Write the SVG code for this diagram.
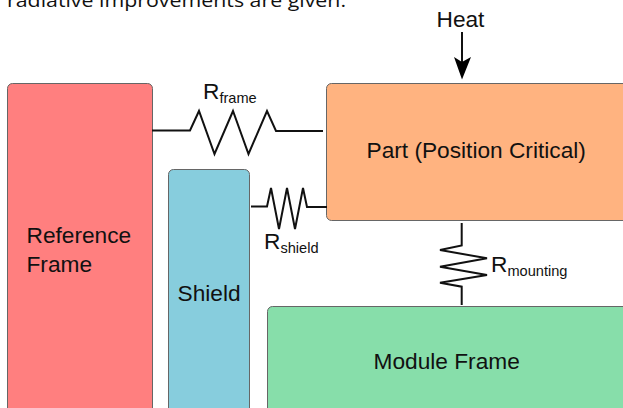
<svg xmlns="http://www.w3.org/2000/svg" width="623" height="408" viewBox="0 0 623 408">
<style>
.n{stroke:#666;stroke-width:1}
.w{fill:none;stroke:#111;stroke-width:2;stroke-linejoin:miter}
text{font-family:"Liberation Sans",Arial,sans-serif;fill:#111}
.l{font-size:22.7px}
.s{font-size:14.6px}
.c{font-family:"Open Sans","Liberation Sans",sans-serif;font-size:18.5px}
</style>
<rect width="623" height="408" fill="#fff"/>
<text class="c" x="7" y="6.500" textLength="339" lengthAdjust="spacingAndGlyphs">radiative improvements are given.</text>
<g id="reference-frame"><rect class="n" x="7.500" y="83.500" width="145" height="340" rx="5" fill="#ff7f7f"/><text class="l" x="26.500" y="243">Reference</text><text class="l" x="26.500" y="272">Frame</text></g>
<g id="shield"><rect class="n" x="168.500" y="169.500" width="81" height="260" rx="5" fill="#87cddd"/><text class="l" x="177.500" y="300.500">Shield</text></g>
<g id="part"><rect class="n" x="326.500" y="83.500" width="320" height="137" rx="5" fill="#ffb380"/><text class="l" x="366.500" y="158">Part (Position Critical)</text></g>
<g id="module-frame"><rect class="n" x="267.500" y="306.500" width="380" height="130" rx="5" fill="#87deaa"/><text class="l" x="373.500" y="369">Module Frame</text></g>
<g id="connectors">
<path class="w" d="M152 130.500H190L199 111 214.500 154 233 111 248.500 154 267 111 276 131H323"/>
<path class="w" d="M251 206.500H267L271 188 279 229 287 188 295 229 303 188 307 207H327"/>
<path class="w" d="M461.700 223V245.500L440 250 487 258.300 440 266.700 487 275 440 282.700 461.700 286.700V305"/>
<path class="w" d="M462 32V62"/>
<polygon points="454,57 462,62 471,57 462,79.500" fill="#000"/>
</g>
<g id="labels">
<text class="l" x="436.500" y="27">Heat</text>
<text class="l" x="203" y="99">R<tspan class="s" dy="4">frame</tspan></text>
<text class="l" x="264" y="249">R<tspan class="s" dy="4">shield</tspan></text>
<text class="l" x="491" y="272">R<tspan class="s" dy="4">mounting</tspan></text>
</g>
</svg>
